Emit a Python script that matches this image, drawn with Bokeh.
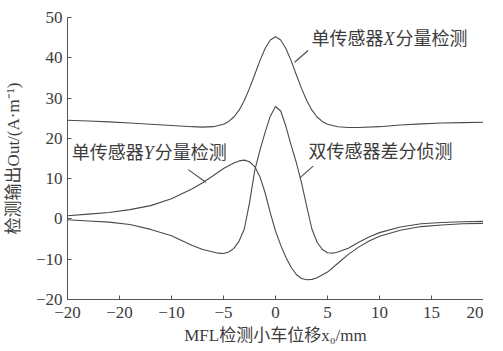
from bokeh.plotting import figure
from bokeh.models import Range1d, FixedTicker, Label
from bokeh.embed import file_html
from bokeh.resources import INLINE

# ---- data ----
x_single_x = [-20, -18, -16, -14, -12, -10, -8, -7, -6, -5, -4.5, -4, -3.5, -3, -2.5, -2, -1.5, -1, -0.5, 0,
              0.5, 1, 1.5, 2, 2.5, 3, 3.5, 4, 4.5, 5, 6, 7, 8, 10, 12, 14, 16, 18, 20]
out_single_x = [24.5, 24.3, 24.1, 23.8, 23.5, 23.2, 22.9, 22.8, 22.9, 23.5, 24.2, 25.3, 27.0, 29.4, 32.4, 35.8,
                39.3, 42.3, 44.4, 45.2, 44.4, 42.3, 39.3, 35.8, 32.4, 29.4, 27.0, 25.3, 24.2, 23.5, 22.9,
                22.7, 22.7, 22.9, 23.3, 23.6, 23.8, 23.9, 24.0]

x_single_y = [-20, -18, -16, -14, -12, -10, -8, -7, -6, -5, -4, -3.5, -3, -2.5, -2, -1.5, -1, -0.5, 0,
              0.5, 1, 1.5, 2, 2.5, 3, 3.5, 4, 5, 6, 7, 8, 9, 10, 12, 14, 16, 18, 20]
out_single_y = [0.8, 1.2, 1.6, 2.3, 3.3, 5.0, 7.5, 9.0, 10.7, 12.5, 13.9, 14.4, 14.6, 14.2, 13.0, 10.5, 6.5,
                1.5, -3.0, -6.5, -9.5, -12.0, -13.8, -14.8, -15.1, -15.0, -14.6, -13.2, -11.0, -8.8, -7.0,
                -5.5, -4.3, -2.8, -1.9, -1.5, -1.2, -1.1]

x_diff = [-20, -18, -16, -14, -12, -10, -8, -7, -6, -5.5, -5, -4.5, -4, -3.5, -3, -2.5, -2, -1.5, -1, -0.5, 0,
          0.5, 1, 1.5, 2, 2.5, 3, 3.5, 4, 4.5, 5, 5.5, 6, 7, 8, 9, 10, 12, 14, 16, 18, 20]
out_diff = [-0.2, -0.5, -0.8, -1.4, -2.6, -4.2, -6.6, -7.6, -8.2, -8.5, -8.6, -8.2, -7.3, -5.5, -2.5, 4.0,
            12.0, 17.0, 21.5, 25.5, 27.9, 26.8, 23.0, 18.3, 14.0, 9.0, 3.1, -2.5, -5.8, -7.6, -8.4, -8.5,
            -8.2, -7.3, -5.8, -4.5, -3.4, -2.0, -1.2, -0.9, -0.7, -0.6]

x_ticks = [-20, -15, -10, -5, 0, 5, 10, 15, 20]
x_tick_labels = ["\u221220", "\u221220", "\u221210", "\u22125", "0", "5", "10", "15", "20"]
y_ticks = [-20, -10, 0, 10, 20, 30, 40, 50]
y_tick_labels = ["\u221220", "\u221210", "0", "10", "20", "30", "40", "50"]

x_label = "MFL检测小车位移x\u2080/mm"
y_label = "检测输出Out/(A·m\u207b\u00b9)"

FONT = "Liberation Serif, Noto Sans CJK SC"
INK = "#3c3c3c"
LINE = "#4a4a4a"

p = figure(frame_width=416, frame_height=282, output_backend="svg", toolbar_location=None,
           x_range=Range1d(-20, 20), y_range=Range1d(-20, 50),
           min_border_left=66, min_border_right=0, min_border_top=17, min_border_bottom=0)
p.outline_line_color = None
p.xgrid.visible = False
p.ygrid.visible = False
p.background_fill_color = "white"

for ax, ticks, labels in ((p.xaxis[0], x_ticks, x_tick_labels), (p.yaxis[0], y_ticks, y_tick_labels)):
    ax.ticker = FixedTicker(ticks=ticks)
    ax.major_label_overrides = {t: l for t, l in zip(ticks, labels)}
    ax.minor_tick_line_color = None
    ax.major_tick_in = 4
    ax.major_tick_out = 0
    ax.axis_line_color = "#555555"
    ax.major_tick_line_color = "#555555"
    ax.major_label_text_font = FONT
    ax.major_label_text_font_size = "17px"
    ax.major_label_text_color = INK
    ax.axis_label_text_font = FONT
    ax.axis_label_text_font_size = "17px"
    ax.axis_label_text_font_style = "normal"
    ax.axis_label_text_color = INK

p.xaxis.axis_label = x_label
p.yaxis.axis_label = y_label
p.xaxis.major_label_standoff = 7
p.yaxis.major_label_standoff = 5
p.xaxis.axis_label_standoff = 5
p.yaxis.axis_label_standoff = 10

p.line(x_single_x, out_single_x, line_color=LINE, line_width=1.1)
p.line(x_single_y, out_single_y, line_color=LINE, line_width=1.1)
p.line(x_diff, out_diff, line_color=LINE, line_width=1.1)

# annotation leader lines (data coords)
lead_x0 = [3.13, 3.62, -8.39]
lead_y0 = [41.8, 13.1, 12.25]
lead_x1 = [1.84, 2.34, -6.70]
lead_y1 = [38.9, 10.2, 9.1]
p.segment(lead_x0, lead_y0, lead_x1, lead_y1, line_color=LINE, line_width=1.1)

def add_label(x, y, parts):
    off = 0
    for text, width, italic in parts:
        p.add_layout(Label(x=x, y=y, x_offset=off, text=text, text_font=FONT,
                           text_font_size="18px", text_color=INK,
                           text_font_style="italic" if italic else "normal",
                           text_baseline="middle", text_align="left"))
        off += width

add_label(3.45, 44.75, [("单传感器", 72, False), ("X", 12, True), ("分量检测", 72, False)])
add_label(3.17, 16.5, [("双传感器差分侦测", 144, False)])
add_label(-19.6, 16.25, [("单传感器", 72, False), ("Y", 11, True), ("分量检测", 72, False)])

open("out.html", "w").write(file_html(p, INLINE))
